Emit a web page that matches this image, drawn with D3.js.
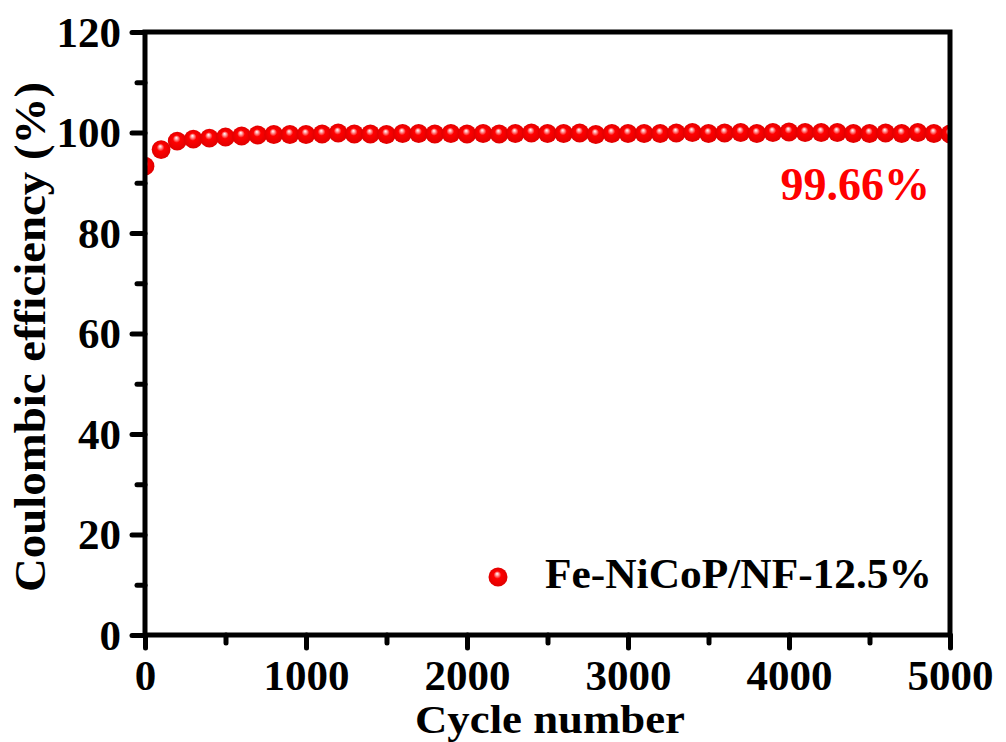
<!DOCTYPE html>
<html>
<head>
<meta charset="utf-8">
<script src="https://cdn.jsdelivr.net/npm/d3@7"></script>
<style>
  body { margin: 0; background: #fff; }
  svg { display: block; font-family: "Liberation Serif", "Times New Roman", serif; font-weight: bold; }
</style>
</head>
<body>
<div id="chart"></div>
<script>
// cycle numbers and coulombic efficiency (%)
var cycles = d3.range(0, 5001, 100);
var efficiency = [
    93.3, 96.6, 98.3, 98.7, 98.9, 99.1, 99.3, 99.5, 99.6, 99.6,
    99.6, 99.7, 99.9, 99.7, 99.7, 99.6, 99.8, 99.8, 99.7, 99.8,
    99.7, 99.8, 99.7, 99.8, 99.9, 99.8, 99.8, 99.9, 99.6, 99.8,
    99.8, 99.8, 99.8, 99.9, 100.0, 99.8, 99.9, 100.0, 99.8, 100.0,
    100.1, 100.0, 100.0, 100.0, 99.8, 99.8, 99.9, 99.8, 100.0, 99.8,
    99.7
];
var xTicks = [0, 1000, 2000, 3000, 4000, 5000];
var yTicks = [0, 20, 40, 60, 80, 100, 120];
var seriesName = "Fe-NiCoP/NF-12.5%";
var finalLabel = "99.66%";

var width = 1006,
    height = 742;
var margin = { top: 32, right: 56, bottom: 107, left: 145 };

var svg = d3.select("#chart")
    .append("svg")
    .attr("width", width)
    .attr("height", height);

var x = d3.scaleLinear()
    .domain([0, 5000])
    .range([margin.left, width - margin.right]);

var y = d3.scaleLinear()
    .domain([0, 120])
    .range([height - margin.bottom, margin.top]);

// ball gradient
var defs = svg.append("defs");
var grad = defs.append("radialGradient")
    .attr("id", "ball")
    .attr("cx", "50%").attr("cy", "50%").attr("r", "50%")
    .attr("fx", "45%").attr("fy", "32%");
grad.append("stop").attr("offset", "0%").attr("stop-color", "#ffffff");
grad.append("stop").attr("offset", "14%").attr("stop-color", "#ffb0b0");
grad.append("stop").attr("offset", "40%").attr("stop-color", "#ff0000");
grad.append("stop").attr("offset", "100%").attr("stop-color", "#e00000");

defs.append("clipPath")
    .attr("id", "plot-clip")
    .append("rect")
    .attr("x", x(0)).attr("y", y(120))
    .attr("width", x(5000) - x(0))
    .attr("height", y(0) - y(120));

// data points
svg.append("g")
    .attr("clip-path", "url(#plot-clip)")
    .selectAll("circle")
    .data(cycles)
    .enter()
    .append("circle")
    .attr("cx", d => x(d))
    .attr("cy", (d, i) => y(efficiency[i]))
    .attr("r", 9.4)
    .style("fill", "url(#ball)");

// axes
var xAxis = svg.append("g")
    .attr("transform", "translate(0," + y(0) + ")")
    .call(d3.axisBottom(x).tickValues(d3.range(0, 5001, 500)).tickSize(0).tickFormat(""))
    .attr("font-family", null)
    .attr("font-size", null);
xAxis.select(".domain").remove();
xAxis.selectAll(".tick line")
    .attr("y2", d => d % 1000 === 0 ? 13 : 8)
    .attr("stroke", "#000")
    .attr("stroke-width", 5)
    .attr("stroke-linecap", "round");
xAxis.selectAll(".tick")
    .filter(d => xTicks.indexOf(d) >= 0)
    .append("text")
    .attr("y", 55)
    .attr("fill", "#000")
    .attr("text-anchor", "middle")
    .attr("font-size", "43px")
    .text(d => d);

var yAxis = svg.append("g")
    .attr("transform", "translate(" + x(0) + ",0)")
    .call(d3.axisLeft(y).tickValues(d3.range(0, 121, 10)).tickSize(0).tickFormat(""))
    .attr("font-family", null)
    .attr("font-size", null);
yAxis.select(".domain").remove();
yAxis.selectAll(".tick line")
    .attr("x2", d => d % 20 === 0 ? -13 : -8)
    .attr("stroke", "#000")
    .attr("stroke-width", 5)
    .attr("stroke-linecap", "round");
yAxis.selectAll(".tick")
    .filter(d => yTicks.indexOf(d) >= 0)
    .append("text")
    .attr("x", -24)
    .attr("dy", "0.33em")
    .attr("fill", "#000")
    .attr("text-anchor", "end")
    .attr("font-size", "43px")
    .text(d => d);

// frame
svg.append("rect")
    .attr("x", x(0)).attr("y", y(120))
    .attr("width", x(5000) - x(0))
    .attr("height", y(0) - y(120))
    .attr("fill", "none")
    .attr("stroke", "#000")
    .attr("stroke-width", 5);

// axis titles
svg.append("text")
    .attr("x", 550)
    .attr("y", 733)
    .attr("text-anchor", "middle")
    .attr("font-size", "41px")
    .attr("textLength", 270)
    .attr("lengthAdjust", "spacingAndGlyphs")
    .text("Cycle number");

svg.append("text")
    .attr("transform", "translate(45,337) rotate(-90)")
    .attr("text-anchor", "middle")
    .attr("font-size", "44px")
    .attr("textLength", 510)
    .attr("lengthAdjust", "spacingAndGlyphs")
    .text("Coulombic efficiency (%)");

// annotation
svg.append("text")
    .attr("x", 930)
    .attr("y", 200)
    .attr("text-anchor", "end")
    .attr("font-size", "46px")
    .attr("fill", "#ff0000")
    .text(finalLabel);

// legend
var legend = svg.append("g")
    .attr("transform", "translate(498,577)");
legend.append("circle")
    .attr("r", 9.5)
    .style("fill", "url(#ball)");
legend.append("text")
    .attr("x", 47)
    .attr("y", 11)
    .attr("font-size", "42px")
    .attr("textLength", 387)
    .attr("lengthAdjust", "spacingAndGlyphs")
    .text(seriesName);
</script>
</body>
</html>
